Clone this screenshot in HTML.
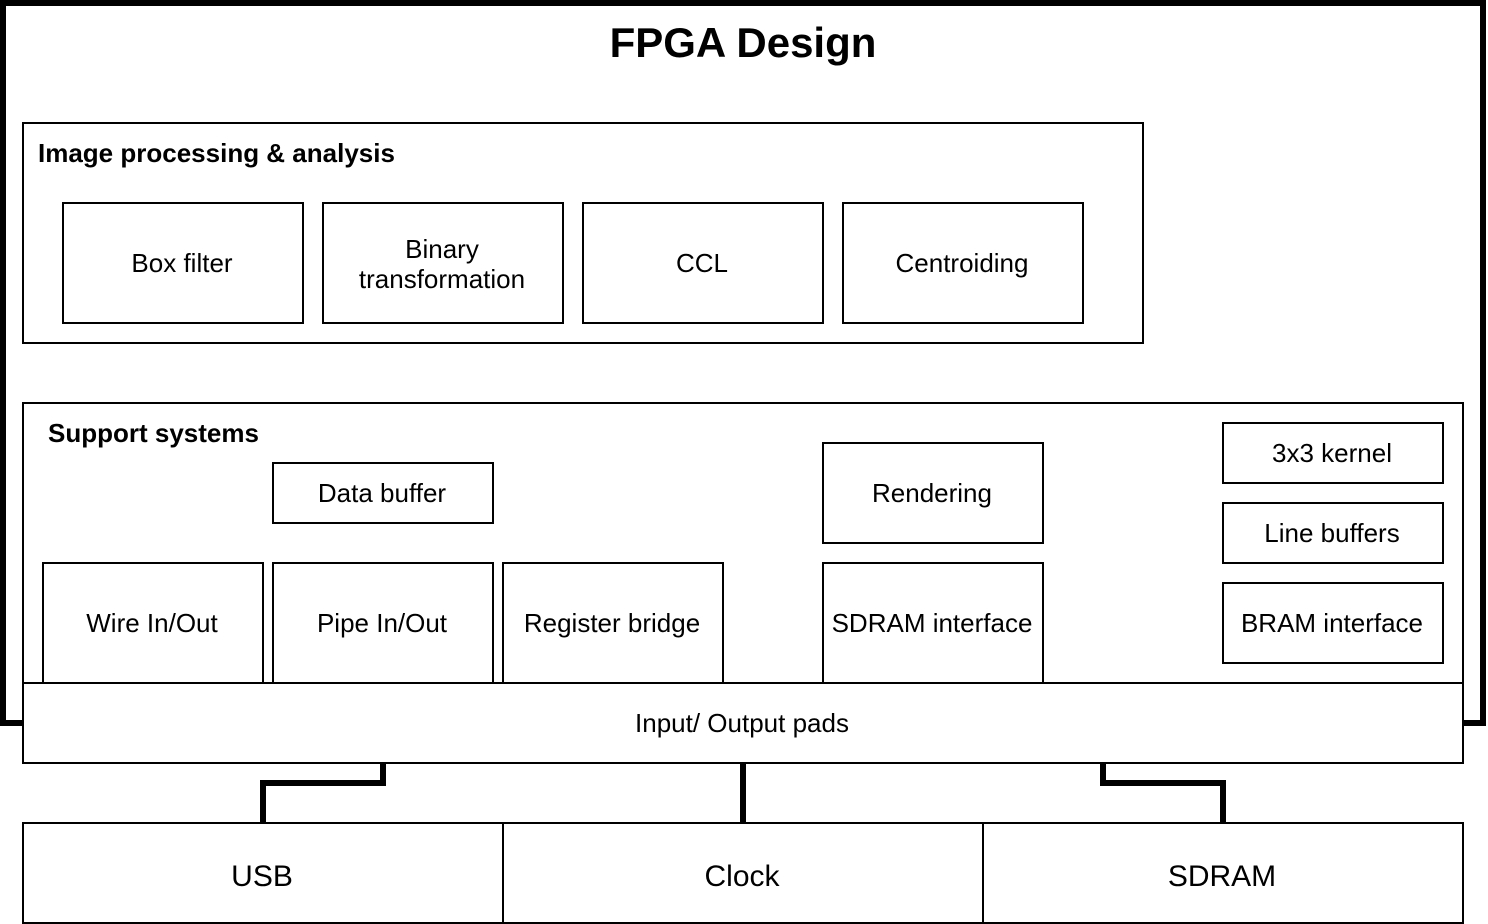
<!DOCTYPE html>
<html><head><style>body{margin:0;background:#fff}svg{display:block}text{font-family:"Liberation Sans",Arial,sans-serif;fill:#000}</style></head><body>
<svg width="1488" height="924" viewBox="0 0 1488 924" xmlns="http://www.w3.org/2000/svg">
<rect x="3" y="3" width="1480" height="720" fill="#fff" stroke="#000" stroke-width="6"/>
<text x="743" y="57" font-size="42" font-weight="bold" text-anchor="middle">FPGA Design</text>
<g fill="#fff" stroke="#000" stroke-width="2">
<rect x="23" y="123" width="1120" height="220"/>
<rect x="63" y="203" width="240" height="120"/>
<rect x="323" y="203" width="240" height="120"/>
<rect x="583" y="203" width="240" height="120"/>
<rect x="843" y="203" width="240" height="120"/>
<rect x="23" y="403" width="1440" height="300"/>
<rect x="273" y="463" width="220" height="60"/>
<rect x="823" y="443" width="220" height="100"/>
<rect x="1223" y="423" width="220" height="60"/>
<rect x="1223" y="503" width="220" height="60"/>
<rect x="1223" y="583" width="220" height="80"/>
<rect x="43" y="563" width="220" height="140"/>
<rect x="273" y="563" width="220" height="140"/>
<rect x="503" y="563" width="220" height="140"/>
<rect x="823" y="563" width="220" height="140"/>
<rect x="23" y="683" width="1440" height="80"/>
<rect x="23" y="823" width="480" height="100"/>
<rect x="503" y="823" width="480" height="100"/>
<rect x="983" y="823" width="480" height="100"/>
</g>
<g fill="none" stroke="#000" stroke-width="6">
<polyline points="383,764 383,783 263,783 263,822"/>
<polyline points="743,764 743,822"/>
<polyline points="1103,764 1103,783 1223,783 1223,822"/>
</g>
<g font-size="26" font-weight="bold">
<text x="38" y="162">Image processing &amp; analysis</text>
<text x="48" y="442">Support systems</text>
</g>
<g font-size="26" text-anchor="middle">
<text x="182" y="272">Box filter</text>
<text x="442" y="258">Binary</text>
<text x="442" y="288">transformation</text>
<text x="702" y="272">CCL</text>
<text x="962" y="272">Centroiding</text>
<text x="382" y="502">Data buffer</text>
<text x="932" y="502">Rendering</text>
<text x="1332" y="462">3x3 kernel</text>
<text x="1332" y="542">Line buffers</text>
<text x="1332" y="632">BRAM interface</text>
<text x="152" y="632">Wire In/Out</text>
<text x="382" y="632">Pipe In/Out</text>
<text x="612" y="632">Register bridge</text>
<text x="932" y="632">SDRAM interface</text>
<text x="742" y="732">Input/ Output pads</text>
</g>
<g font-size="30" text-anchor="middle">
<text x="262" y="886">USB</text>
<text x="742" y="886">Clock</text>
<text x="1222" y="886">SDRAM</text>
</g>
</svg>
</body></html>
